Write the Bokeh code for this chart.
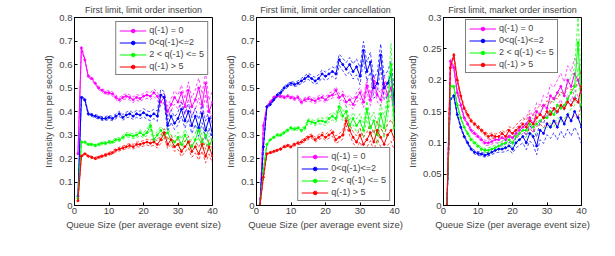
from bokeh.plotting import figure
from bokeh.layouts import row
from bokeh.models import FixedTicker, Legend, LegendItem
from bokeh.embed import file_html
from bokeh.resources import INLINE

x = list(range(1, 41))
labels = ["q(-1) = 0", "0<q(-1)<=2", "2 < q(-1) <= 5", "q(-1) > 5"]
colors = ["#FF00FF", "#0000FF", "#00FF00", "#FF0000"]

# Panel 1: limit order insertion
p1_mag = [0.22,0.67,0.62,0.55,0.54,0.52,0.50,0.49,0.48,0.48,0.475,0.46,0.45,0.46,0.465,0.46,0.45,0.46,0.455,0.465,
          0.47,0.465,0.48,0.465,0.44,0.46,0.40,0.43,0.46,0.44,0.48,0.42,0.49,0.42,0.45,0.50,0.43,0.52,0.40,0.44]
p1_blu = [0.04,0.46,0.45,0.39,0.385,0.38,0.375,0.37,0.37,0.375,0.37,0.38,0.39,0.375,0.385,0.39,0.38,0.39,0.385,0.395,
          0.385,0.38,0.39,0.38,0.47,0.46,0.34,0.38,0.35,0.37,0.41,0.36,0.40,0.34,0.38,0.33,0.39,0.32,0.37,0.30]
p1_grn = [0.03,0.27,0.27,0.26,0.26,0.255,0.26,0.265,0.265,0.27,0.27,0.28,0.28,0.29,0.30,0.30,0.295,0.30,0.31,0.30,
          0.31,0.34,0.28,0.30,0.32,0.30,0.31,0.28,0.27,0.29,0.26,0.30,0.27,0.25,0.28,0.32,0.27,0.30,0.26,0.28]
p1_red = [0.02,0.21,0.22,0.21,0.205,0.20,0.205,0.21,0.215,0.22,0.225,0.235,0.24,0.245,0.25,0.255,0.25,0.26,0.26,0.265,
          0.27,0.265,0.27,0.26,0.28,0.31,0.26,0.28,0.25,0.26,0.23,0.25,0.27,0.23,0.25,0.22,0.26,0.21,0.25,0.21]
p1_mag_err = [0.004,0.006,0.006,0.006,0.006,0.006,0.007,0.007,0.008,0.008,0.009,0.009,0.010,0.010,0.011,0.011,0.012,0.012,0.013,0.013,
              0.014,0.015,0.016,0.017,0.018,0.020,0.022,0.025,0.028,0.030,0.032,0.034,0.036,0.038,0.040,0.042,0.044,0.046,0.048,0.050]
p1_blu_err = [0.004,0.006,0.006,0.006,0.006,0.007,0.007,0.008,0.008,0.009,0.009,0.010,0.011,0.012,0.012,0.013,0.014,0.015,0.016,0.017,
              0.018,0.019,0.020,0.022,0.025,0.025,0.025,0.026,0.027,0.028,0.030,0.031,0.032,0.034,0.035,0.036,0.038,0.039,0.040,0.042]
p1_grn_err = [0.003,0.004,0.004,0.004,0.005,0.005,0.005,0.006,0.006,0.007,0.007,0.008,0.008,0.009,0.009,0.010,0.010,0.011,0.012,0.012,
              0.013,0.014,0.015,0.016,0.017,0.018,0.019,0.020,0.021,0.022,0.023,0.024,0.025,0.026,0.027,0.028,0.029,0.030,0.031,0.032]
p1_red_err = [0.003,0.004,0.004,0.004,0.004,0.005,0.005,0.005,0.006,0.006,0.007,0.007,0.008,0.008,0.009,0.009,0.010,0.010,0.011,0.012,
              0.012,0.013,0.014,0.015,0.016,0.017,0.018,0.019,0.020,0.021,0.022,0.023,0.024,0.025,0.026,0.027,0.028,0.029,0.030,0.031]

# Panel 2: limit order cancellation
p2_mag = [0.0,0.34,0.42,0.44,0.46,0.465,0.465,0.46,0.465,0.46,0.455,0.46,0.44,0.45,0.455,0.45,0.445,0.455,0.46,0.45,
          0.465,0.47,0.49,0.46,0.47,0.44,0.45,0.43,0.46,0.48,0.44,0.51,0.45,0.53,0.47,0.45,0.52,0.47,0.50,0.42]
p2_blu = [0.0,0.25,0.42,0.43,0.45,0.47,0.48,0.50,0.51,0.52,0.515,0.52,0.53,0.54,0.55,0.54,0.53,0.54,0.56,0.55,
          0.56,0.57,0.56,0.62,0.60,0.58,0.60,0.57,0.59,0.55,0.66,0.57,0.61,0.50,0.52,0.64,0.50,0.52,0.56,0.43]
p2_grn = [0.0,0.15,0.26,0.28,0.29,0.30,0.30,0.31,0.32,0.33,0.325,0.33,0.32,0.33,0.36,0.355,0.35,0.36,0.36,0.355,
          0.37,0.38,0.37,0.42,0.38,0.40,0.34,0.37,0.34,0.36,0.32,0.41,0.33,0.36,0.30,0.39,0.33,0.42,0.60,0.33]
p2_red = [0.0,0.12,0.22,0.225,0.23,0.235,0.24,0.25,0.255,0.25,0.26,0.265,0.27,0.28,0.29,0.295,0.28,0.29,0.30,0.29,
          0.30,0.31,0.28,0.29,0.30,0.36,0.32,0.29,0.27,0.30,0.26,0.28,0.31,0.27,0.32,0.29,0.26,0.30,0.32,0.28]
p2_mag_err = [0.002,0.004,0.004,0.005,0.005,0.005,0.006,0.006,0.007,0.007,0.008,0.008,0.009,0.009,0.010,0.010,0.011,0.011,0.012,0.012,
              0.013,0.014,0.015,0.016,0.017,0.018,0.019,0.020,0.021,0.022,0.023,0.024,0.025,0.026,0.027,0.028,0.029,0.030,0.031,0.032]
p2_blu_err = [0.002,0.004,0.005,0.005,0.006,0.006,0.007,0.007,0.008,0.008,0.009,0.010,0.011,0.012,0.013,0.014,0.015,0.016,0.017,0.018,
              0.019,0.020,0.022,0.024,0.026,0.028,0.030,0.032,0.034,0.036,0.038,0.040,0.042,0.044,0.046,0.048,0.050,0.052,0.054,0.056]
p2_grn_err = [0.002,0.003,0.004,0.004,0.005,0.005,0.005,0.006,0.006,0.007,0.007,0.008,0.008,0.009,0.009,0.010,0.011,0.012,0.013,0.014,
              0.015,0.016,0.017,0.018,0.020,0.022,0.024,0.026,0.028,0.030,0.032,0.034,0.036,0.038,0.040,0.042,0.044,0.050,0.090,0.050]
p2_red_err = [0.002,0.003,0.003,0.004,0.004,0.004,0.005,0.005,0.006,0.006,0.007,0.007,0.008,0.008,0.009,0.009,0.010,0.011,0.012,0.013,
              0.014,0.015,0.016,0.017,0.018,0.020,0.022,0.024,0.026,0.028,0.030,0.032,0.034,0.036,0.038,0.040,0.042,0.044,0.046,0.048]

# Panel 3: market order insertion
p3_mag = [0.0,0.23,0.22,0.18,0.16,0.14,0.13,0.12,0.115,0.11,0.105,0.10,0.10,0.102,0.105,0.105,0.108,0.105,0.11,0.108,
          0.115,0.12,0.125,0.13,0.14,0.13,0.15,0.145,0.16,0.155,0.175,0.17,0.18,0.19,0.175,0.20,0.19,0.21,0.20,0.18]
p3_blu = [0.0,0.17,0.175,0.145,0.125,0.11,0.10,0.09,0.085,0.083,0.082,0.08,0.082,0.085,0.088,0.09,0.09,0.092,0.095,0.09,
          0.10,0.105,0.11,0.10,0.115,0.11,0.095,0.12,0.115,0.13,0.125,0.135,0.125,0.14,0.13,0.145,0.135,0.15,0.14,0.125]
p3_grn = [0.0,0.19,0.19,0.16,0.14,0.125,0.115,0.105,0.10,0.095,0.09,0.088,0.088,0.09,0.092,0.095,0.098,0.10,0.105,0.10,
          0.11,0.115,0.12,0.12,0.13,0.125,0.13,0.135,0.14,0.14,0.15,0.145,0.16,0.155,0.16,0.17,0.18,0.19,0.26,0.16]
p3_red = [0.0,0.22,0.24,0.20,0.175,0.155,0.145,0.135,0.13,0.125,0.12,0.115,0.11,0.112,0.11,0.11,0.115,0.11,0.12,0.115,
          0.12,0.125,0.13,0.125,0.135,0.13,0.14,0.145,0.14,0.15,0.145,0.155,0.15,0.16,0.155,0.165,0.16,0.17,0.165,0.19]
p3_mag_err = [0.001,0.003,0.003,0.003,0.003,0.003,0.003,0.003,0.003,0.003,0.003,0.004,0.004,0.004,0.005,0.005,0.006,0.006,0.007,0.007,
              0.008,0.009,0.010,0.011,0.012,0.013,0.014,0.015,0.016,0.017,0.018,0.019,0.020,0.021,0.022,0.023,0.024,0.025,0.026,0.027]
p3_blu_err = [0.001,0.002,0.002,0.002,0.002,0.002,0.002,0.002,0.003,0.003,0.003,0.003,0.003,0.004,0.004,0.005,0.005,0.006,0.006,0.007,
              0.008,0.009,0.010,0.011,0.012,0.013,0.014,0.015,0.016,0.017,0.018,0.019,0.020,0.021,0.022,0.023,0.024,0.025,0.026,0.027]
p3_grn_err = [0.001,0.002,0.002,0.002,0.002,0.002,0.002,0.003,0.003,0.003,0.003,0.003,0.004,0.004,0.004,0.005,0.005,0.006,0.006,0.007,
              0.008,0.009,0.010,0.011,0.012,0.013,0.014,0.015,0.016,0.017,0.018,0.019,0.020,0.021,0.022,0.024,0.026,0.030,0.040,0.030]
p3_red_err = [0.001,0.003,0.003,0.003,0.003,0.003,0.003,0.003,0.003,0.003,0.003,0.003,0.004,0.004,0.004,0.005,0.005,0.006,0.006,0.007,
              0.008,0.009,0.010,0.011,0.012,0.013,0.014,0.015,0.016,0.017,0.018,0.019,0.020,0.021,0.022,0.023,0.024,0.025,0.026,0.027]

titles = ["First limit, limit order insertion", "First limit, limit order cancellation", "First limit, market order insertion"]
y1_ticks = [0, 0.1, 0.2, 0.3, 0.4, 0.5, 0.6, 0.7, 0.8]
y3_ticks = [0, 0.05, 0.1, 0.15, 0.2, 0.25, 0.3]
x_ticks = [0, 10, 20, 30, 40]

FONT = "Liberation Sans"
FW, FH = 138, 188


def make_panel(title, series, errs, ymax, yticks, left, legend_loc):
    p = figure(width=left + FW + 10, height=232, frame_width=FW, frame_height=FH,
               x_range=(0, 40), y_range=(0, ymax), output_backend="svg", toolbar_location=None,
               min_border_left=left, min_border_right=10, min_border_top=0, min_border_bottom=0)
    p.title.text = title
    p.title.text_font = FONT
    p.title.text_font_size = "9px"
    p.title.text_font_style = "normal"
    p.title.align = "center"
    p.title.offset = 0
    p.title.standoff = 5
    p.grid.visible = False
    p.outline_line_color = "black"
    p.outline_line_width = 1
    p.outline_line_alpha = 1
    for ax in (p.xaxis[0], p.yaxis[0]):
        ax.major_tick_in = 3
        ax.major_tick_out = 0
        ax.minor_tick_in = 0
        ax.minor_tick_out = 0
        ax.major_label_text_font = FONT
        ax.major_label_text_font_size = "9.5px"
        ax.axis_label_text_font = FONT
        ax.axis_label_text_font_size = "9.5px"
        ax.axis_label_text_font_style = "normal"
        ax.major_label_standoff = 2
        ax.axis_label_standoff = 2
    p.xaxis.ticker = FixedTicker(ticks=x_ticks)
    p.yaxis.ticker = FixedTicker(ticks=yticks)
    p.yaxis.major_label_overrides = {t: ("0" if t == 0 else f"{t:g}") for t in yticks}
    p.xaxis.axis_label = "Queue Size (per average event size)"
    p.yaxis.axis_label = "Intensity (num per second)"

    items = []
    for lab, col, ys, es in zip(labels, colors, series, errs):
        up = [v + e for v, e in zip(ys, es)]
        lo = [max(v - e, 0) for v, e in zip(ys, es)]
        p.line(x, up, line_color=col, line_width=0.7, line_dash="3 2")
        p.line(x, lo, line_color=col, line_width=0.7, line_dash="3 2")
    for lab, col, ys in zip(labels, colors, series):
        ln = p.line(x, ys, line_color=col, line_width=1)
        sc = p.scatter(x, ys, size=2, color=col)
        items.append(LegendItem(label=lab, renderers=[ln, sc]))
    leg = Legend(items=items, location=legend_loc)
    leg.label_text_font = FONT
    leg.label_text_font_size = "9px"
    leg.label_height = 9
    leg.glyph_height = 9
    leg.glyph_width = 27
    leg.spacing = 2
    leg.padding = 3
    leg.margin = 4
    leg.label_standoff = 3
    leg.border_line_color = "black"
    leg.border_line_width = 1
    leg.background_fill_alpha = 1
    p.add_layout(leg, "center")
    return p


pa = make_panel(titles[0], [p1_mag, p1_blu, p1_grn, p1_red],
                [p1_mag_err, p1_blu_err, p1_grn_err, p1_red_err], 0.8, y1_ticks, 74, "top_right")
pb = make_panel(titles[1], [p2_mag, p2_blu, p2_grn, p2_red],
                [p2_mag_err, p2_blu_err, p2_grn_err, p2_red_err], 0.8, y1_ticks, 33, "bottom_right")
pc = make_panel(titles[2], [p3_mag, p3_blu, p3_grn, p3_red],
                [p3_mag_err, p3_blu_err, p3_grn_err, p3_red_err], 0.3, y3_ticks, 32, (22, 132))

layout = row(pa, pb, pc, spacing=0)
open("out.html", "w").write(file_html(layout, INLINE))
